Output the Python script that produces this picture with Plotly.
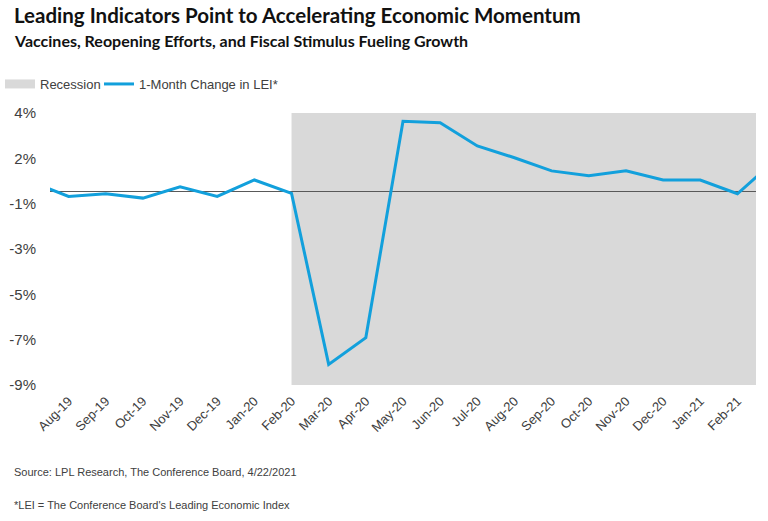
import plotly.graph_objects as go

months = ["Jul-19", "Aug-19", "Sep-19", "Oct-19", "Nov-19", "Dec-19", "Jan-20", "Feb-20",
          "Mar-20", "Apr-20", "May-20", "Jun-20", "Jul-20", "Aug-20", "Sep-20", "Oct-20",
          "Nov-20", "Dec-20", "Jan-21", "Feb-21", "Mar-21"]
lei_change = [0.47, -0.25, -0.12, -0.33, 0.22, -0.25, 0.55, -0.10,
              -8.40, -7.10, 3.40, 3.33, 2.20, 1.63, 0.99, 0.76,
              1.00, 0.55, 0.55, -0.12, 1.48]
recession_start = "Feb-20"

y_tickvals = [3.8, 1.6, -0.6, -2.8, -5.0, -7.2, -9.4]
y_ticktext = ["4%", "2%", "-1%", "-3%", "-5%", "-7%", "-9%"]

TXT = "#404040"
BLUE = "#12a0dc"
GRAY = "#d9d9d9"

fig = go.Figure()

# legend-only entry for the recession shading
fig.add_trace(go.Scatter(
    x=[None], y=[None], mode="lines", name="Recession", legend="legend",
    line=dict(color=GRAY, width=9), hoverinfo="skip"))

fig.add_trace(go.Scatter(
    x=list(range(len(months))), y=lei_change, mode="lines", legend="legend2",
    name="1-Month Change in LEI*", line=dict(color=BLUE, width=3)))

rec_idx = months.index(recession_start)
fig.add_shape(type="rect", xref="x", yref="paper", x0=rec_idx, x1=len(months) - 1,
              y0=0, y1=1, fillcolor=GRAY, line=dict(width=0), layer="below")

legend_common = dict(orientation="h", xref="container", yref="container",
                     xanchor="left", yanchor="middle", y=1 - 84 / 521,
                     font=dict(size=13, color=TXT, family="Liberation Sans, Arial"),
                     itemwidth=30, bgcolor="rgba(0,0,0,0)")

fig.update_layout(
    width=768, height=521,
    margin=dict(l=50, r=12, t=113, b=136, autoexpand=False),
    paper_bgcolor="white", plot_bgcolor="white",
    font=dict(family="Liberation Sans, Arial", color=TXT, size=14),
    showlegend=True,
    legend=dict(x=-3 / 768, **legend_common),
    legend2=dict(x=99 / 768, **legend_common),
    xaxis=dict(
        tickmode="array", tickvals=list(range(len(months))), ticktext=months,
        range=[0.5, len(months) - 1.5], tickangle=-45, automargin=False,
        showgrid=False, zeroline=False, showline=False, ticks="", ticklabelstandoff=5,
        tickfont=dict(size=13, color=TXT, family="Liberation Sans, Arial")),
    yaxis=dict(
        range=[-9.4, 3.8], tickmode="array", tickvals=y_tickvals, ticktext=y_ticktext,
        showgrid=False, zeroline=True, zerolinecolor="#595959", zerolinewidth=1,
        showline=False, ticks="", ticklabelstandoff=13, automargin=False,
        tickfont=dict(size=15, color=TXT, family="Liberation Sans, Arial")),
)

fig.add_annotation(text="<b>Leading Indicators Point to Accelerating Economic Momentum</b>",
                   xref="paper", yref="paper", x=(12 - 50) / 706, y=(385 - 15) / 272,
                   xanchor="left", yanchor="middle", showarrow=False,
                   font=dict(family="Lato", size=20.5, color="#111111"))
fig.add_annotation(text="<b>Vaccines, Reopening Efforts, and Fiscal Stimulus Fueling Growth</b>",
                   xref="paper", yref="paper", x=(12 - 50) / 706, y=(385 - 40) / 272,
                   xanchor="left", yanchor="middle", showarrow=False,
                   font=dict(family="Lato", size=16, color="#111111"))
fig.add_annotation(text="Source: LPL Research, The Conference Board, 4/22/2021",
                   xref="paper", yref="paper", x=(12 - 50) / 706, y=(385 - 472) / 272,
                   xanchor="left", yanchor="middle", showarrow=False,
                   font=dict(family="Liberation Sans, Arial", size=11, color=TXT))
fig.add_annotation(text="*LEI = The Conference Board's Leading Economic Index",
                   xref="paper", yref="paper", x=(12 - 50) / 706, y=(385 - 505) / 272,
                   xanchor="left", yanchor="middle", showarrow=False,
                   font=dict(family="Liberation Sans, Arial", size=11, color=TXT))

fig.write_html("out.html")
